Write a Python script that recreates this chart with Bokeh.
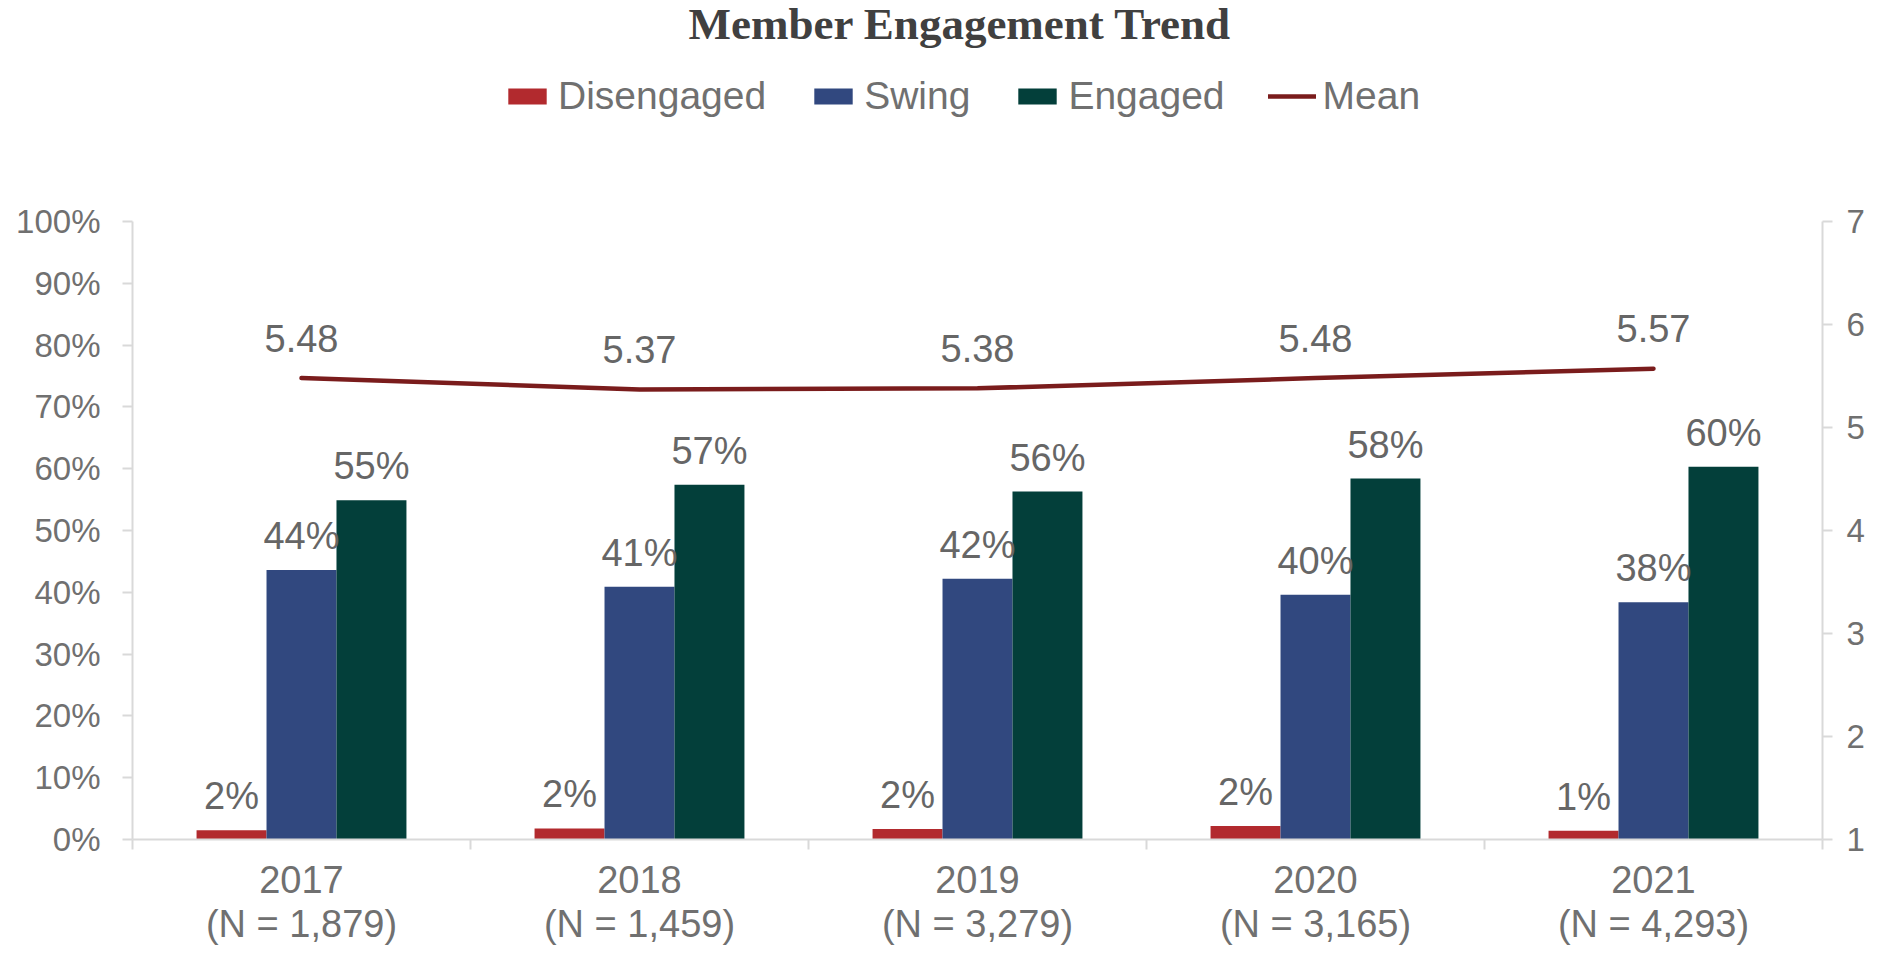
from bokeh.plotting import figure
from bokeh.models import (Range1d, LinearAxis, FixedTicker, SingleIntervalTicker, Legend,
                          LegendItem, ColumnDataSource, NumeralTickFormatter, Label)
from bokeh.transform import dodge
from bokeh.core.properties import value
from bokeh.embed import file_html
from bokeh.resources import INLINE

# ---- data ----
title_text = "Member Engagement Trend"
years = ["2017", "2018", "2019", "2020", "2021"]
n_counts = ["1,879", "1,459", "3,279", "3,165", "4,293"]
disengaged = [1.5, 1.8, 1.7, 2.2, 1.4]      # %
swing = [43.6, 40.9, 42.2, 39.6, 38.4]      # %
engaged = [54.9, 57.4, 56.3, 58.4, 60.3]    # %
mean_score = [5.48, 5.37, 5.38, 5.48, 5.57]

# ---- style ----
RED = "#b22a2e"
BLUE = "#31487f"
GREEN = "#033f3a"
LINE = "#7a1c1c"
TXT = "#666666"
TXT2 = "#707070"
AXIS = "#d9d9d9"
SANS = "Liberation Sans"
BAR_W = 0.207
HEADROOM = 1.3576        # frame extends above 100% so legend and title sit inside it

xs = [i + 0.5 for i in range(len(years))]
src = ColumnDataSource(dict(
    x=xs,
    dis=[v / 100 for v in disengaged],
    swing=[v / 100 for v in swing],
    eng=[v / 100 for v in engaged],
    mean=mean_score,
    dis_lbl=[f"{round(v)}%" for v in disengaged],
    swing_lbl=[f"{round(v)}%" for v in swing],
    eng_lbl=[f"{round(v)}%" for v in engaged],
    mean_lbl=[f"{v:.2f}" for v in mean_score],
))

p = figure(width=1867, height=947, output_backend="svg", toolbar_location=None,
           x_range=Range1d(0, len(years)), y_range=Range1d(0, HEADROOM),
           min_border_left=132, min_border_right=43, min_border_top=0, min_border_bottom=108)
p.title = None
p.extra_y_ranges = {"mean": Range1d(1, 1 + 6 * HEADROOM)}
p.outline_line_color = None
p.xgrid.visible = False
p.ygrid.visible = False
p.background_fill_color = "white"
p.border_fill_color = "white"

# title (screen units from the frame's bottom-left)
p.add_layout(Label(x=556, y=816, x_units="screen", y_units="screen", text=title_text,
                   text_font="Liberation Serif", text_font_style="bold", text_font_size="45px",
                   text_color="#404040", text_baseline="alphabetic", text_align="left"))

# bars
r_dis = p.vbar(x=dodge("x", -BAR_W, range=p.x_range), top="dis", width=BAR_W, source=src,
               fill_color=RED, line_color=None)
r_sw = p.vbar(x="x", top="swing", width=BAR_W, source=src, fill_color=BLUE, line_color=None)
r_en = p.vbar(x=dodge("x", BAR_W, range=p.x_range), top="eng", width=BAR_W, source=src,
              fill_color=GREEN, line_color=None)

# mean line
r_mean = p.line(x="x", y="mean", source=src, y_range_name="mean", line_color=LINE,
                line_width=4.5, line_cap="round")

# data labels
lbl_kw = dict(source=src, text_align="center", text_baseline="alphabetic",
              text_font=value(SANS), text_font_size="38px", text_color=TXT)
p.text(x=dodge("x", -BAR_W, range=p.x_range), y="dis", text="dis_lbl", y_offset=-34, **lbl_kw)
p.text(x="x", y="swing", text="swing_lbl", y_offset=-34, **lbl_kw)
p.text(x=dodge("x", BAR_W, range=p.x_range), y="eng", text="eng_lbl", y_offset=-34, **lbl_kw)
p.text(x="x", y="mean", text="mean_lbl", y_offset=-40, y_range_name="mean", **lbl_kw)

# left axis
ya = p.yaxis[0]
ya.ticker = SingleIntervalTicker(interval=0.1, num_minor_ticks=0)
ya.formatter = NumeralTickFormatter(format="0%")
ya.bounds = (0, 1)
# right axis
ra = LinearAxis(y_range_name="mean", ticker=SingleIntervalTicker(interval=1, num_minor_ticks=0))
ra.bounds = (1, 7)
p.add_layout(ra, "right")
for ax in (ya, ra):
    ax.axis_line_color = AXIS
    ax.axis_line_width = 2
    ax.major_tick_line_color = AXIS
    ax.major_tick_line_width = 2
    ax.major_tick_out = 10
    ax.major_tick_in = 0
    ax.minor_tick_line_color = None
    ax.major_label_text_font = SANS
    ax.major_label_text_font_size = "33px"
    ax.major_label_text_color = TXT2
ya.major_label_standoff = 22
ra.major_label_standoff = 14

# x axis
xa = p.xaxis[0]
xa.ticker = FixedTicker(ticks=xs, minor_ticks=list(range(len(years) + 1)))
xa.major_label_overrides = {x: f"{y}\n(N = {n})" for x, y, n in zip(xs, years, n_counts)}
xa.axis_line_color = AXIS
xa.axis_line_width = 2
xa.major_tick_line_color = None
xa.major_tick_out = 0
xa.major_tick_in = 0
xa.minor_tick_line_color = AXIS
xa.minor_tick_line_width = 2
xa.minor_tick_out = 10
xa.minor_tick_in = 0
xa.major_label_text_font = SANS
xa.major_label_text_font_size = "38px"
xa.major_label_text_line_height = 1.05
xa.major_label_text_color = TXT2
xa.major_label_standoff = 9

# legend (inside the extended frame, above the 100% level)
legend = Legend(items=[
    LegendItem(label="Disengaged", renderers=[r_dis]),
    LegendItem(label="Swing", renderers=[r_sw]),
    LegendItem(label="Engaged", renderers=[r_en]),
    LegendItem(label="Mean", renderers=[r_mean]),
], orientation="horizontal", location=(371, 721))
legend.glyph_width = 48
legend.glyph_height = 20
legend.label_standoff = 7
legend.spacing = 43
legend.padding = 0
legend.margin = 0
legend.border_line_color = None
legend.background_fill_alpha = 0
legend.label_text_font = SANS
legend.label_text_font_size = "39px"
legend.label_text_color = TXT2
p.add_layout(legend, "center")

open("out.html", "w").write(file_html(p, INLINE))
